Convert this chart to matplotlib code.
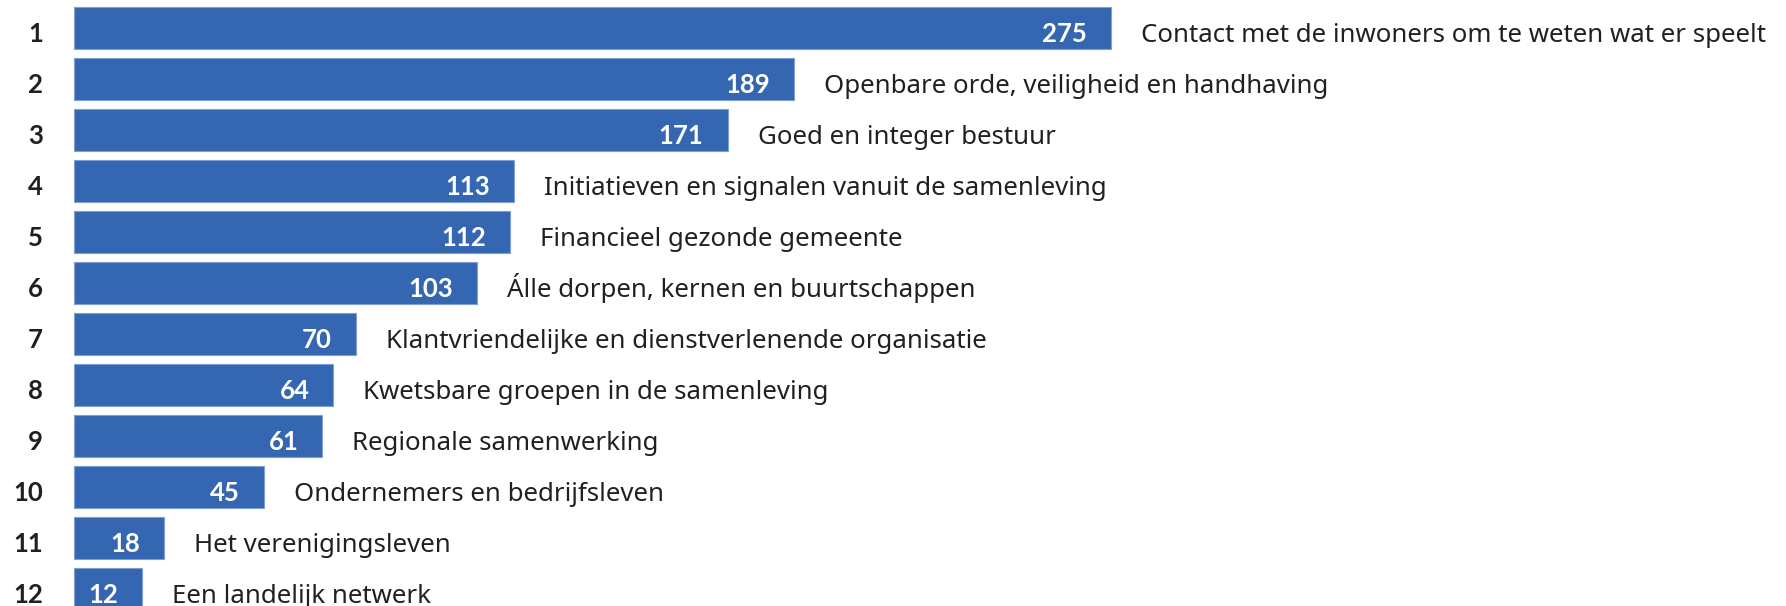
import matplotlib
matplotlib.use('Agg')
import matplotlib.pyplot as plt
import numpy as np

ranks = list(range(1, 13))
values = [275, 189, 171, 113, 112, 103, 70, 64, 61, 45, 18, 12]
labels = [
    'Contact met de inwoners om te weten wat er speelt',
    'Openbare orde, veiligheid en handhaving',
    'Goed en integer bestuur',
    'Initiatieven en signalen vanuit de samenleving',
    'Financieel gezonde gemeente',
    'Álle dorpen, kernen en buurtschappen',
    'Klantvriendelijke en dienstverlenende organisatie',
    'Kwetsbare groepen in de samenleving',
    'Regionale samenwerking',
    'Ondernemers en bedrijfsleven',
    'Het verenigingsleven',
    'Een landelijk netwerk',
]

BAR = '#3466b2'
TEXT = '#231f20'
plt.rcParams['font.family'] = ['Noto Sans', 'DejaVu Sans']
num_font = ['Lato', 'DejaVu Sans']

fig = plt.figure(figsize=(17.86, 6.06), dpi=100)
ax = fig.add_axes([0, 0, 1, 1])
ax.axis('off')

y = np.arange(len(values))
pad = 6.5  # bars start a little left of zero in the original
ax.barh(y, np.array(values) + pad, left=-pad, height=0.824,
        color=BAR, edgecolor='#7f9fd4', linewidth=0.8)

ax.set_xlim(-26.55, 458.4)
ax.set_ylim(11.327, -0.555)

base = -10.1  # baseline offset below bar centre, points
fs = 18.6
for i, (r, v, lab) in enumerate(zip(ranks, values, labels)):
    ax.annotate(str(r), xy=(0.024, i), xycoords=ax.get_yaxis_transform(),
                xytext=(0, base), textcoords='offset points', family=num_font,
                ha='right', va='baseline', fontsize=18.5, fontweight='bold', color=TEXT)
    ax.annotate(str(v), xy=(v, i), xytext=(-17.3, base), textcoords='offset points',
                family=num_font, ha='right', va='baseline', fontsize=18.5,
                fontweight='bold', color='white')
    ax.annotate(lab, xy=(v, i), xytext=(21.6, base), textcoords='offset points',
                ha='left', va='baseline', fontsize=fs, color=TEXT)

fig.savefig('out.png', dpi=100, facecolor='white')
